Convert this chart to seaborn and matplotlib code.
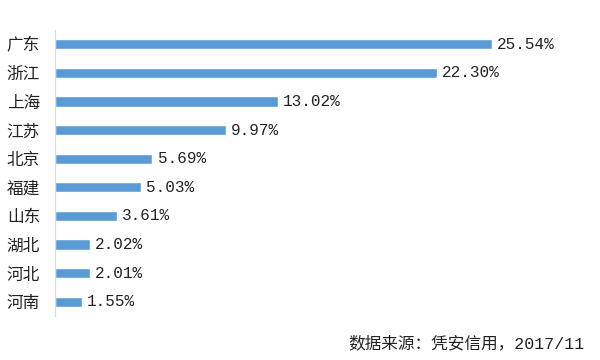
import numpy as np
import pandas as pd
import matplotlib
matplotlib.use("Agg")
import matplotlib.pyplot as plt
import seaborn as sns

provinces = ["广东", "浙江", "上海", "江苏", "北京", "福建", "山东", "湖北", "河北", "河南"]
shares = [25.54, 22.30, 13.02, 9.97, 5.69, 5.03, 3.61, 2.02, 2.01, 1.55]
source_note = "数据来源：凭安信用，2017/11"

sns.set_style("white")
plt.rcParams['font.family'] = ['Noto Sans CJK SC', 'DejaVu Sans']
mono = ['Liberation Mono', 'Noto Sans CJK SC']

df = pd.DataFrame({"province": provinces, "share": shares})

fig = plt.figure(figsize=(6, 3.6), dpi=100)
ax = fig.add_axes([0.092, 0.122, 0.855, 0.795])

sns.barplot(data=df, x="share", y="province", orient="h", color="#5B9BD5",
            saturation=1, width=0.36, ax=ax)

ax.set_xlim(0, 30)
ax.set_ylim(len(provinces) - 0.5, -0.5)
ax.set_xlabel("")
ax.set_ylabel("")
ax.set_xticks([])

for s in ["top", "right", "bottom"]:
    ax.spines[s].set_visible(False)
ax.spines["left"].set_color("#D9D9D9")
ax.spines["left"].set_linewidth(0.8)

ax.tick_params(axis="y", which="major", length=0, pad=11, labelsize=12, labelcolor="#222222")
ax.set_yticks(np.arange(-0.5, len(provinces) + 0.5, 1), minor=True)
ax.tick_params(axis="y", which="minor", length=4, color="#D9D9D9", width=0.8)

for i, v in enumerate(shares):
    ax.text(v + 0.3, i, f"{v:.2f}%", va="center", ha="left", fontsize=11.5,
            color="#222222", family=mono)

fig.text(0.975, 0.025, source_note, ha="right", va="bottom", fontsize=12,
         color="#222222", family=mono)

fig.savefig("out.png", dpi=100)
